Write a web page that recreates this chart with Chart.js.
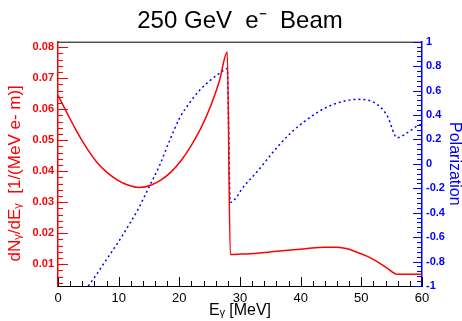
<!DOCTYPE html>
<html>
<head>
<meta charset="utf-8">
<script src="https://cdn.jsdelivr.net/npm/chart.js@4.4.1/dist/chart.umd.min.js"></script>
<style>
html,body{margin:0;padding:0;background:#fff}
</style>
</head>
<body>
<canvas id="chart" width="462" height="321"></canvas>
<script>
// photon spectrum (left axis)
const specE = [0, 1.65, 2.75, 3.85, 4.93, 6.58, 8.22, 9.87, 11.5, 13.4, 15.4, 17.0, 18.65, 20.3, 21.95, 23.6, 25.2, 26.6, 27.9,
  28.4, 30.0, 32.9, 35.6, 38.4, 41.1, 43.9, 46.0, 47.7, 49.3, 50.8, 52.1, 53.3, 54.3, 55.9, 60.0];
const specN = [0.0645, 0.0582, 0.0541, 0.0503, 0.0469, 0.0425, 0.0394, 0.0371, 0.0356, 0.0348, 0.0356, 0.0372, 0.0398, 0.0435, 0.0483, 0.0541, 0.0612, 0.0691, 0.0785,
  0.0132, 0.0133, 0.0136, 0.0141, 0.0146, 0.0151, 0.0155, 0.0155, 0.0150, 0.0139, 0.0127, 0.0114, 0.0100, 0.0087, 0.0068, 0.0068];
// polarization (right axis)
const polE = [5.0, 6.5, 7.7, 9.0, 10.4, 11.8, 13.2, 15.0, 16.7, 18.4, 20.0, 21.7, 23.3, 25.0, 26.6, 27.9,
  28.4, 30.7, 32.9, 35.6, 38.4, 41.1, 43.9, 46.6, 49.3, 51.0, 52.6, 54.3, 55.9, 57.6, 59.2, 60.0];
const polP = [-1.0, -0.895, -0.805, -0.71, -0.604, -0.49, -0.372, -0.19, -0.018, 0.19, 0.37, 0.50, 0.60, 0.68, 0.74, 0.78,
  -0.315, -0.18, -0.059, 0.105, 0.255, 0.364, 0.454, 0.506, 0.528, 0.522, 0.487, 0.391, 0.214, 0.255, 0.31, 0.325];

const FONT = '"Liberation Sans", Arial, Helvetica, sans-serif';
const RED = '#ff0000', BLUE = '#0000ff';

// ROOT-style ticks drawn inside the frame, with minor ticks
const innerTicks = {
  id: 'innerTicks',
  afterDatasetsDraw(chart) {
    const {ctx, chartArea: a, scales: {x, y, y1}} = chart;
    ctx.save();
    ctx.lineWidth = 1;
    const seg = (x0, y0, x1, y1_) => { ctx.beginPath(); ctx.moveTo(x0, y0); ctx.lineTo(x1, y1_); ctx.stroke(); };
    ctx.strokeStyle = '#000';
    for (let i = 0; i <= 30; i++) {
      const px = Math.round(x.getPixelForValue(i * 2)) + 0.5;
      seg(px, a.bottom, px, a.bottom - (i % 5 === 0 ? 9 : 5));
    }
    seg(a.left, a.top + 0.5, a.right, a.top + 0.5);
    ctx.strokeStyle = RED;
    for (let i = 2; i <= 40; i++) {
      const py = Math.round(y.getPixelForValue(i * 0.002)) + 0.5;
      seg(a.left, py, a.left + (i % 5 === 0 ? 10 : 5), py);
    }
    ctx.strokeStyle = BLUE;
    for (let i = -25; i <= 25; i++) {
      const py = Math.round(y1.getPixelForValue(i * 0.04)) + 0.5;
      seg(a.right, py, a.right - (i % 5 === 0 ? 9 : 5), py);
    }
    ctx.restore();
  }
};

const noPad = s => { s.paddingTop = 0; s.paddingBottom = 0; s.paddingLeft = 0; s.paddingRight = 0; };

new Chart(document.getElementById('chart'), {
  type: 'line',
  data: {
    datasets: [
      {
        label: 'dN/dE',
        data: specE.map((e, i) => ({x: e, y: specN[i]})),
        yAxisID: 'y',
        borderColor: RED, borderWidth: 1.5, pointRadius: 0, fill: false,
        cubicInterpolationMode: 'monotone'
      },
      {
        label: 'Polarization',
        data: polE.map((e, i) => ({x: e, y: polP[i]})),
        yAxisID: 'y1',
        borderColor: BLUE, borderWidth: 1.5, borderDash: [2, 3], pointRadius: 0, fill: false,
        cubicInterpolationMode: 'monotone'
      }
    ]
  },
  options: {
    responsive: false,
    devicePixelRatio: 1,
    animation: false,
    layout: {padding: 0},
    plugins: {
      legend: {display: false},
      tooltip: {enabled: false},
      title: {
        display: true,
        text: '250 GeV  e\u207B  Beam',
        color: '#000',
        fullSize: false,
        font: {family: FONT, size: 24, weight: 'normal', lineHeight: 1.2},
        padding: {top: 7, bottom: 5.9}
      }
    },
    scales: {
      x: {
        type: 'linear', min: 0, max: 60,
        border: {display: true, color: '#000', width: 1},
        grid: {display: true, drawOnChartArea: false, drawTicks: false},
        ticks: {stepSize: 10, padding: 5, color: '#000', font: {family: FONT, size: 13}, maxRotation: 0, callback: v => String(v)},
        title: {display: true, text: 'E\u1D67 [MeV]', color: '#000', font: {family: FONT, size: 16, lineHeight: 1}, padding: {top: 0, bottom: 2}},
        afterFit(s) { s.height = 35; noPad(s); }
      },
      y: {
        type: 'linear', position: 'left', min: 0.003, max: 0.0818,
        border: {display: true, color: RED, width: 1.5},
        grid: {display: true, drawOnChartArea: false, drawTicks: false},
        ticks: {stepSize: 0.01, includeBounds: false, padding: 4, color: RED, font: {family: FONT, size: 11, weight: 'bold'}, callback: v => v.toFixed(2)},
        title: {display: true, text: 'dN\u1D67/dE\u1D67  [1/(MeV e- m)]    ', color: RED, font: {family: FONT, size: 17, lineHeight: 1}, padding: {top: 6.5, bottom: 0}},
        afterFit(s) { s.width = 58; noPad(s); }
      },
      y1: {
        type: 'linear', position: 'right', min: -1, max: 1,
        border: {display: true, color: BLUE, width: 1.5},
        grid: {display: true, drawOnChartArea: false, drawTicks: false},
        ticks: {stepSize: 0.2, includeBounds: false, padding: 4, color: BLUE, font: {family: FONT, size: 11, weight: 'bold'}, callback: v => String(Math.round(v * 10) / 10)},
        title: {display: true, text: 'Polarization', color: BLUE, font: {family: FONT, size: 16, lineHeight: 1}, padding: {top: 0, bottom: 0}},
        afterFit(s) { s.width = 40; noPad(s); }
      }
    }
  },
  plugins: [innerTicks]
});
</script>
</body>
</html>
